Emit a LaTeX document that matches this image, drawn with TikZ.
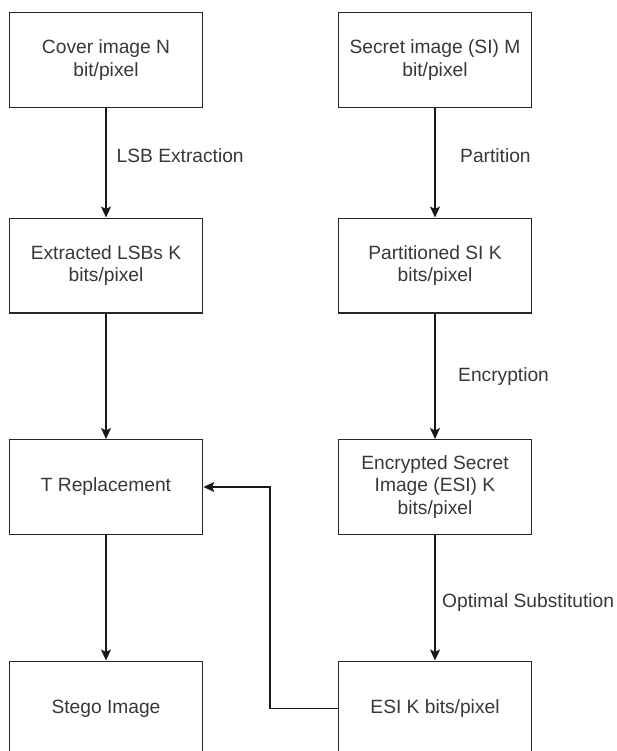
\documentclass[tikz,border=0pt]{standalone}
\usepackage{fontspec}
\setmainfont{Liberation Sans}
\usetikzlibrary{arrows.meta}
\begin{document}
\begin{tikzpicture}[x=1pt,y=1pt,
  box/.style={draw=black!85, line width=1.4pt, minimum width=193.4pt, minimum height=94.6pt, inner sep=0pt, align=center, text=black!78, font=\fontsize{19.2}{22.5}\selectfont},
  lbl/.style={anchor=west, inner sep=0pt, text=black!78, font=\fontsize{19.2}{22.5}\selectfont},
  conn/.style={draw=black!90, line width=1.4pt, -{Stealth[length=11pt,width=10pt,inset=2.5pt]}}
]
\useasboundingbox (0,0) rectangle (616,-751);
\clip (0,0) rectangle (616,-751);
\fill[white] (0,0) rectangle (616,-751);
% left column
\node[box] (cover) at (106,-60) {Cover image N\\bit/pixel};
\node[box] (extr) at (106,-265.5) {Extracted LSBs K\\bits/pixel};
\node[box] (trep) at (106,-487) {T Replacement};
\node[box] (stego) at (106,-708.5) {Stego Image};
% right column
\node[box] (secret) at (435,-60) {Secret image (SI) M\\bit/pixel};
\node[box] (part) at (435,-265.5) {Partitioned SI K\\bits/pixel};
\node[box] (enc) at (435,-487) {Encrypted Secret\\Image (ESI) K\\bits/pixel};
\node[box] (esi) at (435,-708.5) {ESI K bits/pixel};
% connectors
\draw[conn] (cover) -- (extr);
\draw[conn] (extr) -- (trep);
\draw[conn] (trep) -- (stego);
\draw[conn] (secret) -- (part);
\draw[conn] (part) -- (enc);
\draw[conn] (enc) -- (esi);
\coordinate (bend) at (270,-708.5);
\draw[conn] (esi.west) -- (bend) |- (trep.east);
% labels
\node[lbl] (l1) at (116.5,-156) {LSB Extraction};
\node[lbl] (l2) at (460,-156) {Partition};
\node[lbl] (l3) at (458,-377) {Encryption};
\node[lbl] (l4) at (442,-603) {Optimal Substitution};
\end{tikzpicture}
\end{document}
